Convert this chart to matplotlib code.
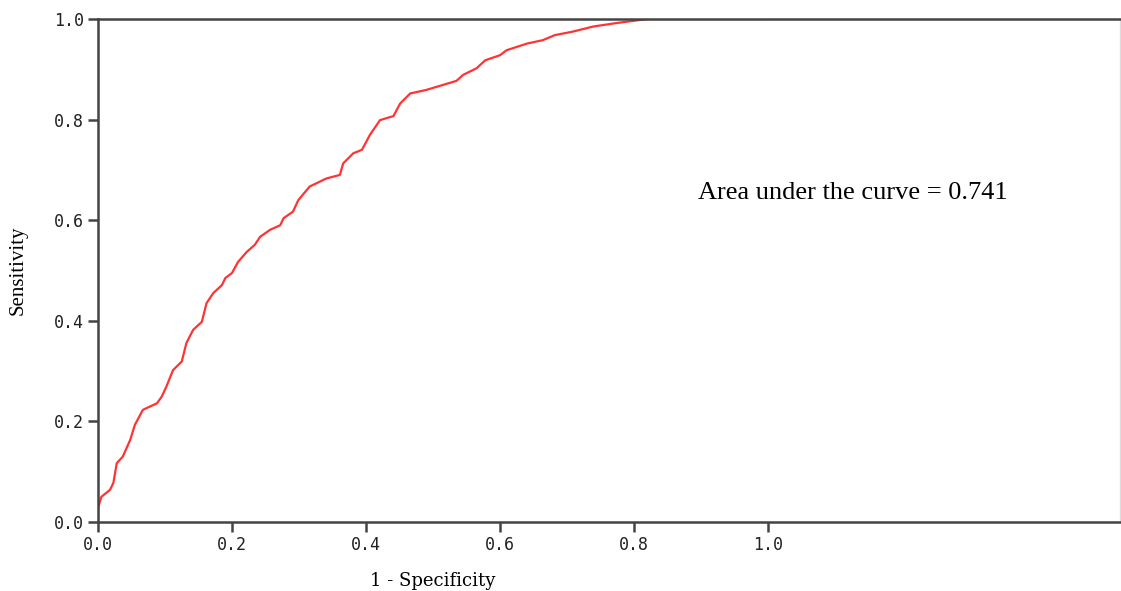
import matplotlib
matplotlib.use('Agg')
import matplotlib.pyplot as plt
import matplotlib.transforms as mtransforms

# ROC curve points
fpr = [0.0, 0.0, 0.002, 0.005, 0.018, 0.023, 0.028, 0.037, 0.048, 0.055, 0.067,
       0.088, 0.095, 0.102, 0.112, 0.125, 0.132, 0.142, 0.155, 0.162, 0.172,
       0.185, 0.19, 0.2, 0.209, 0.222, 0.234, 0.242, 0.257, 0.272, 0.277,
       0.291, 0.299, 0.316, 0.341, 0.361, 0.366, 0.381, 0.394, 0.406, 0.421,
       0.441, 0.451, 0.466, 0.49, 0.515, 0.535, 0.545, 0.565, 0.578, 0.6,
       0.61, 0.64, 0.664, 0.682, 0.709, 0.739, 0.774, 0.809, 0.821, 1.0]
tpr = [0.0, 0.024, 0.037, 0.05, 0.064, 0.078, 0.117, 0.13, 0.163, 0.193, 0.223,
       0.236, 0.249, 0.269, 0.302, 0.319, 0.356, 0.382, 0.398, 0.435, 0.455,
       0.471, 0.485, 0.495, 0.517, 0.537, 0.551, 0.567, 0.581, 0.59, 0.604,
       0.617, 0.64, 0.667, 0.683, 0.69, 0.713, 0.733, 0.74, 0.77, 0.799,
       0.807, 0.832, 0.852, 0.859, 0.869, 0.877, 0.889, 0.902, 0.918, 0.928,
       0.938, 0.951, 0.958, 0.968, 0.975, 0.985, 0.992, 0.998, 1.0, 1.0]
ticks = [0.0, 0.2, 0.4, 0.6, 0.8, 1.0]
auc_text = 'Area under the curve = 0.741'

fig = plt.figure(figsize=(11.21, 5.91), dpi=100)
ax = fig.add_axes([98/1121, 69/591, 1022/1121, 503/591])

ax.plot(fpr, tpr, color='#ff3333', lw=1.6)

ax.set_xlim(0, 1022/670)
ax.set_ylim(0, 1)
ax.set_xticks(ticks)
ax.set_yticks(ticks)
ax.set_xticklabels(['%.1f' % t for t in ticks])
ax.set_yticklabels(['%.1f' % t for t in ticks])
ax.tick_params(direction='out', length=7, width=1.8, color='#444444',
               labelsize=12, pad=3, labelcolor='#222222')
for lab in ax.get_xticklabels() + ax.get_yticklabels():
    lab.set_family('DejaVu Sans Mono')

for side in ['left', 'bottom', 'top']:
    ax.spines[side].set_color('#444444')
    ax.spines[side].set_linewidth(1.8)
ax.spines['right'].set_color('#dddddd')
ax.spines['right'].set_linewidth(1)

ax.set_ylabel('Sensitivity', family='Liberation Serif', fontsize=15)
ax.yaxis.set_label_coords(28/1121, 0.5,
                          transform=mtransforms.blended_transform_factory(fig.transFigure, ax.transAxes))
ax.set_xlabel('1 - Specificity', family='DejaVu Serif', fontsize=13)
ax.xaxis.set_label_coords(0.5, -0.1,
                          transform=mtransforms.blended_transform_factory(ax.transData, ax.transAxes))

ax.text(0.896, 0.654, auc_text, family='Liberation Serif', fontsize=19,
        ha='left', va='center')

fig.savefig('out.png', dpi=100)
